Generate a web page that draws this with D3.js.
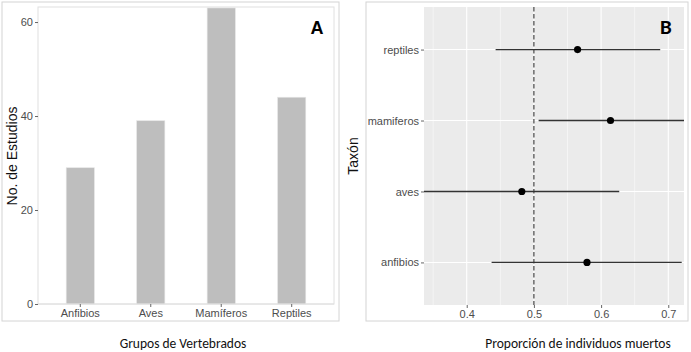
<!DOCTYPE html>
<html><head><meta charset="utf-8">
<script src="https://cdn.jsdelivr.net/npm/d3@7"></script>
<style>body{margin:0;background:#fff;} svg{display:block;}</style>
</head><body>
<svg id="c" width="691" height="352"></svg>
<script>
// Panel A data
const groups = ["Anfibios", "Aves", "Mamíferos", "Reptiles"];
const studies = [29, 39, 63, 44];
const yTicksA = [0, 20, 40, 60];
// Panel B data
const taxa = ["anfibios", "aves", "mamiferos", "reptiles"];
const propMean = [0.579, 0.482, 0.614, 0.565];
const propLow = [0.437, 0.32, 0.507, 0.443];
const propHigh = [0.72, 0.627, 0.74, 0.688];
const xTicksB = [0.4, 0.5, 0.6, 0.7];
const xMinorB = [0.35, 0.45, 0.55, 0.65];

const svg = d3.select("#c");
const axisCol = "#4d4d4d";
const sans = "Liberation Sans, Arial, sans-serif";
const cal = "Carlito, Lato, 'Open Sans', sans-serif";

// ---------- Panel A ----------
svg.append("rect").attr("x",2).attr("y",2).attr("width",337).attr("height",319)
  .attr("fill","none").attr("stroke","#d4d4d4").attr("stroke-width",1);
const xA = d3.scaleBand().domain(groups).range([38,334]).paddingInner(0.6).paddingOuter(0.4);
const yA = d3.scaleLinear().domain([0,63.2]).range([304,7]);
svg.append("rect").attr("x",38).attr("y",7).attr("width",296).attr("height",297)
  .attr("fill","#fff").attr("stroke","#e0e0e0").attr("stroke-width",1);
svg.append("g").selectAll("rect").data(groups).join("rect")
  .attr("x",d=>xA(d)).attr("width",xA.bandwidth())
  .attr("y",(d,i)=>yA(studies[i])).attr("height",(d,i)=>yA(0)-yA(studies[i]))
  .attr("fill","#bebebe").attr("stroke","#e6e6e6").attr("stroke-width",0.6);
svg.append("line").attr("x1",38).attr("x2",334).attr("y1",304).attr("y2",304)
  .attr("stroke","#e0e0e0").attr("stroke-width",1);

const gyA = svg.append("g").attr("transform","translate(38,0)")
  .call(d3.axisLeft(yA).tickValues(yTicksA).tickSize(3).tickPadding(2));
gyA.select(".domain").remove();
gyA.selectAll("line").attr("stroke","#666");
gyA.selectAll("text").attr("fill",axisCol).style("font-family",sans).style("font-size","11px");

const gxA = svg.append("g").attr("transform","translate(0,304)")
  .call(d3.axisBottom(xA).tickSize(3).tickPadding(2));
gxA.select(".domain").remove();
gxA.selectAll("line").attr("stroke","#666");
gxA.selectAll("text").attr("fill",axisCol).style("font-family",sans).style("font-size","11px");

svg.append("text").attr("transform","translate(17,156) rotate(-90)")
  .attr("text-anchor","middle").style("font-family",sans).style("font-size","14px")
  .attr("fill","#111").text("No. de Estudios");
svg.append("text").attr("x",317).attr("y",34).attr("text-anchor","middle")
  .style("font-family",sans).style("font-weight","bold").style("font-size","18px").text("A");
svg.append("text").attr("x",183).attr("y",348).attr("text-anchor","middle")
  .style("font-family",cal).style("font-size","13.5px").attr("fill","#111").text("Grupos de Vertebrados");

// ---------- Panel B ----------
svg.append("rect").attr("x",366).attr("y",2).attr("width",322).attr("height",319)
  .attr("fill","none").attr("stroke","#d4d4d4").attr("stroke-width",1);
const xB = d3.scaleLinear().domain([0.3364,0.7234]).range([424,684]);
const yB = d3.scalePoint().domain(taxa).range([305,7]).padding(0.6);
svg.append("defs").append("clipPath").attr("id","clipB").append("rect")
  .attr("x",424).attr("y",7).attr("width",260).attr("height",298);
svg.append("rect").attr("x",424).attr("y",7).attr("width",260).attr("height",298).attr("fill","#ebebeb");
const grid = svg.append("g");
grid.selectAll(".mn").data(xMinorB).join("line")
  .attr("x1",d=>xB(d)).attr("x2",d=>xB(d)).attr("y1",7).attr("y2",305)
  .attr("stroke","#fff").attr("stroke-width",0.5);
grid.selectAll(".mj").data(xTicksB).join("line")
  .attr("x1",d=>xB(d)).attr("x2",d=>xB(d)).attr("y1",7).attr("y2",305)
  .attr("stroke","#fff").attr("stroke-width",1.1);
grid.selectAll(".hy").data(taxa).join("line")
  .attr("x1",424).attr("x2",684).attr("y1",d=>yB(d)).attr("y2",d=>yB(d))
  .attr("stroke","#fff").attr("stroke-width",1.1);

svg.append("line").attr("x1",xB(0.5)).attr("x2",xB(0.5)).attr("y1",7).attr("y2",305)
  .attr("stroke","#222").attr("stroke-width",1).attr("stroke-dasharray","4.5,2.5");

const marks = svg.append("g").attr("clip-path","url(#clipB)");
marks.selectAll("line").data(taxa).join("line")
  .attr("x1",(d,i)=>xB(propLow[i])).attr("x2",(d,i)=>xB(propHigh[i]))
  .attr("y1",d=>yB(d)).attr("y2",d=>yB(d))
  .attr("stroke","#333").attr("stroke-width",1.3);
marks.selectAll("circle").data(taxa).join("circle")
  .attr("cx",(d,i)=>xB(propMean[i])).attr("cy",d=>yB(d)).attr("r",3.6).attr("fill","#000");

const gxB = svg.append("g").attr("transform","translate(0,305)")
  .call(d3.axisBottom(xB).tickValues(xTicksB).tickFormat(d3.format(".1f")).tickSize(3).tickPadding(2));
gxB.select(".domain").remove();
gxB.selectAll("line").attr("stroke","#666");
gxB.selectAll("text").attr("fill",axisCol).style("font-family",sans).style("font-size","11px");

const gyB = svg.append("g").attr("transform","translate(424,0)")
  .call(d3.axisLeft(yB).tickSize(3).tickPadding(2));
gyB.select(".domain").remove();
gyB.selectAll("line").attr("stroke","#666");
gyB.selectAll("text").attr("fill",axisCol).style("font-family",sans).style("font-size","11px");

svg.append("text").attr("transform","translate(358,156) rotate(-90)")
  .attr("text-anchor","middle").style("font-family",sans).style("font-size","14px")
  .attr("fill","#111").text("Taxón");
svg.append("text").attr("x",666).attr("y",34).attr("text-anchor","middle")
  .style("font-family",cal).style("font-weight","bold").style("font-size","21px").text("B");
svg.append("text").attr("x",578).attr("y",348).attr("text-anchor","middle")
  .style("font-family",cal).style("font-size","13.5px").attr("fill","#111").text("Proporción de individuos muertos");
</script>
</body></html>
